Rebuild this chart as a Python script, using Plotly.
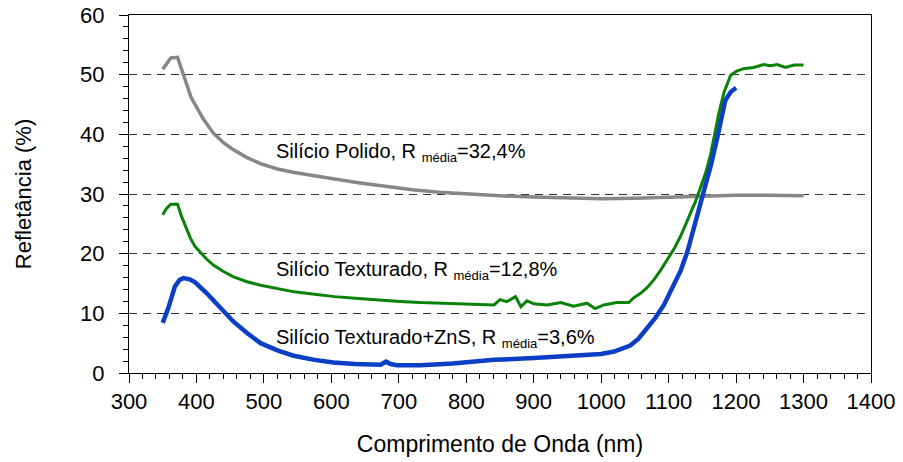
import plotly.graph_objects as go

# Wavelength (nm) and reflectance (%) for each sample
wl_polido = [350, 355, 362, 372, 378, 385, 392, 400, 410, 425, 440, 455, 475, 495, 520, 545,
             575, 605, 640, 680, 720, 760, 800, 850, 900, 950, 1000, 1050, 1100, 1150, 1200,
             1250, 1300]
r_polido = [50.9, 51.8, 52.8, 52.9, 50.8, 48.5, 46.2, 44.6, 42.6, 40.2, 38.6, 37.4, 36.1,
            35.1, 34.2, 33.6, 33.0, 32.5, 31.9, 31.3, 30.7, 30.3, 30.0, 29.7, 29.5, 29.3,
            29.2, 29.3, 29.5, 29.7, 29.8, 29.8, 29.7]

wl_text = [350, 355, 362, 372, 378, 385, 391, 398, 405, 415, 425, 440, 455, 475, 495, 520,
           545, 575, 605, 640, 682, 702, 732, 780, 820, 841, 850, 860, 873, 881, 890, 900,
           920, 940, 959, 979, 991, 1004, 1023, 1041, 1048, 1058, 1068, 1078, 1088, 1098,
           1108, 1118, 1125, 1132, 1140, 1147, 1155, 1162, 1168, 1174, 1182, 1192, 1201,
           1211, 1226, 1241, 1251, 1261, 1273, 1286, 1300]
r_text = [26.5, 27.5, 28.3, 28.3, 26.2, 24.3, 22.6, 21.2, 20.3, 19.1, 18.1, 17.0, 16.1,
          15.3, 14.7, 14.1, 13.6, 13.2, 12.8, 12.5, 12.1, 12.0, 11.8, 11.6, 11.5, 11.4,
          12.3, 11.95, 12.8, 11.1, 12.1, 11.6, 11.4, 11.8, 11.2, 11.7, 10.8, 11.4, 11.8,
          11.8, 12.6, 13.3, 14.3, 15.6, 17.2, 18.9, 20.8, 23.0, 24.8, 26.7, 28.8, 31.0,
          33.6, 36.5, 39.8, 43.3, 47.0, 49.9, 50.6, 51.0, 51.2, 51.7, 51.5, 51.7, 51.2,
          51.6, 51.6]

wl_zns = [350, 358, 368, 375, 381, 390, 398, 405, 415, 425, 440, 455, 475, 495, 520, 544,
          575, 603, 635, 663, 673, 681, 688, 697, 732, 780, 841, 900, 979, 1000, 1019, 1030,
          1043, 1055, 1068, 1080, 1093, 1105, 1118, 1128, 1137, 1146, 1155, 1163, 1172,
          1178, 1184, 1192, 1200]
r_zns = [8.4, 10.8, 14.5, 15.6, 15.9, 15.7, 15.2, 14.5, 13.4, 12.2, 10.4, 8.6, 6.7, 5.0,
         3.8, 2.9, 2.2, 1.75, 1.5, 1.45, 1.4, 1.9, 1.5, 1.3, 1.3, 1.6, 2.2, 2.5, 3.0, 3.2,
         3.6, 4.0, 4.6, 5.7, 7.4, 9.2, 11.4, 14.0, 17.2, 20.4, 24.0, 27.6, 31.4, 35.0,
         39.4, 42.8, 45.7, 47.1, 47.8]

series = [
    (wl_polido, r_polido, "#878787", 3.5, "Silício Polido"),
    (wl_text, r_text, "#0a820a", 3.0, "Silício Texturado"),
    (wl_zns, r_zns, "#0a3fc6", 4.5, "Silício Texturado+ZnS"),
]

# Average reflectance labels, placed beside each curve
sub = "<sub><span style='font-size:13px'>média</span></sub>"
labels = [
    (515, 37.0, f"Silício Polido, R {sub}=32,4%"),
    (515, 17.1, f"Silício Texturado, R {sub}=12,8%"),
    (515, 5.7, f"Silício Texturado+ZnS, R {sub}=3,6%"),
]

font_family = "Arial, Liberation Sans, sans-serif"

fig = go.Figure()
for x, y, color, width, name in series:
    fig.add_trace(go.Scatter(x=x, y=y, mode="lines", name=name,
                             line=dict(color=color, width=width)))

for x, y, text in labels:
    fig.add_annotation(x=x, y=y, text=text, showarrow=False, xanchor="left",
                       yanchor="middle", font=dict(family=font_family, size=20, color="#000"))

axis_common = dict(
    showline=True, linecolor="#000", linewidth=1, mirror=True,
    ticks="outside", ticklen=9, tickcolor="#000", tickwidth=1,
    tickfont=dict(family=font_family, size=22, color="#000"),
    zeroline=False, automargin=False,
)

fig.update_xaxes(range=[300, 1400], dtick=100, showgrid=False,
                 minor=dict(dtick=20, ticks="outside", ticklen=5, tickcolor="#000", showgrid=False),
                 title=dict(text="Comprimento de Onda (nm)", standoff=22,
                            font=dict(family=font_family, size=23, color="#000")),
                 **axis_common)
fig.update_yaxes(range=[0, 60], dtick=10, showgrid=True, gridcolor="#333",
                 gridwidth=1, griddash="8px,6px", ticklabelstandoff=10,
                 minor=dict(dtick=2, ticks="outside", ticklen=5, tickcolor="#000", showgrid=False),
                 title=dict(text="Refletância (%)", standoff=42,
                            font=dict(family=font_family, size=22, color="#000")),
                 **axis_common)

fig.update_layout(
    width=903, height=462,
    margin=dict(l=129, r=32, t=15, b=89),
    paper_bgcolor="white", plot_bgcolor="white",
    showlegend=False,
)

fig.write_html("out.html")
